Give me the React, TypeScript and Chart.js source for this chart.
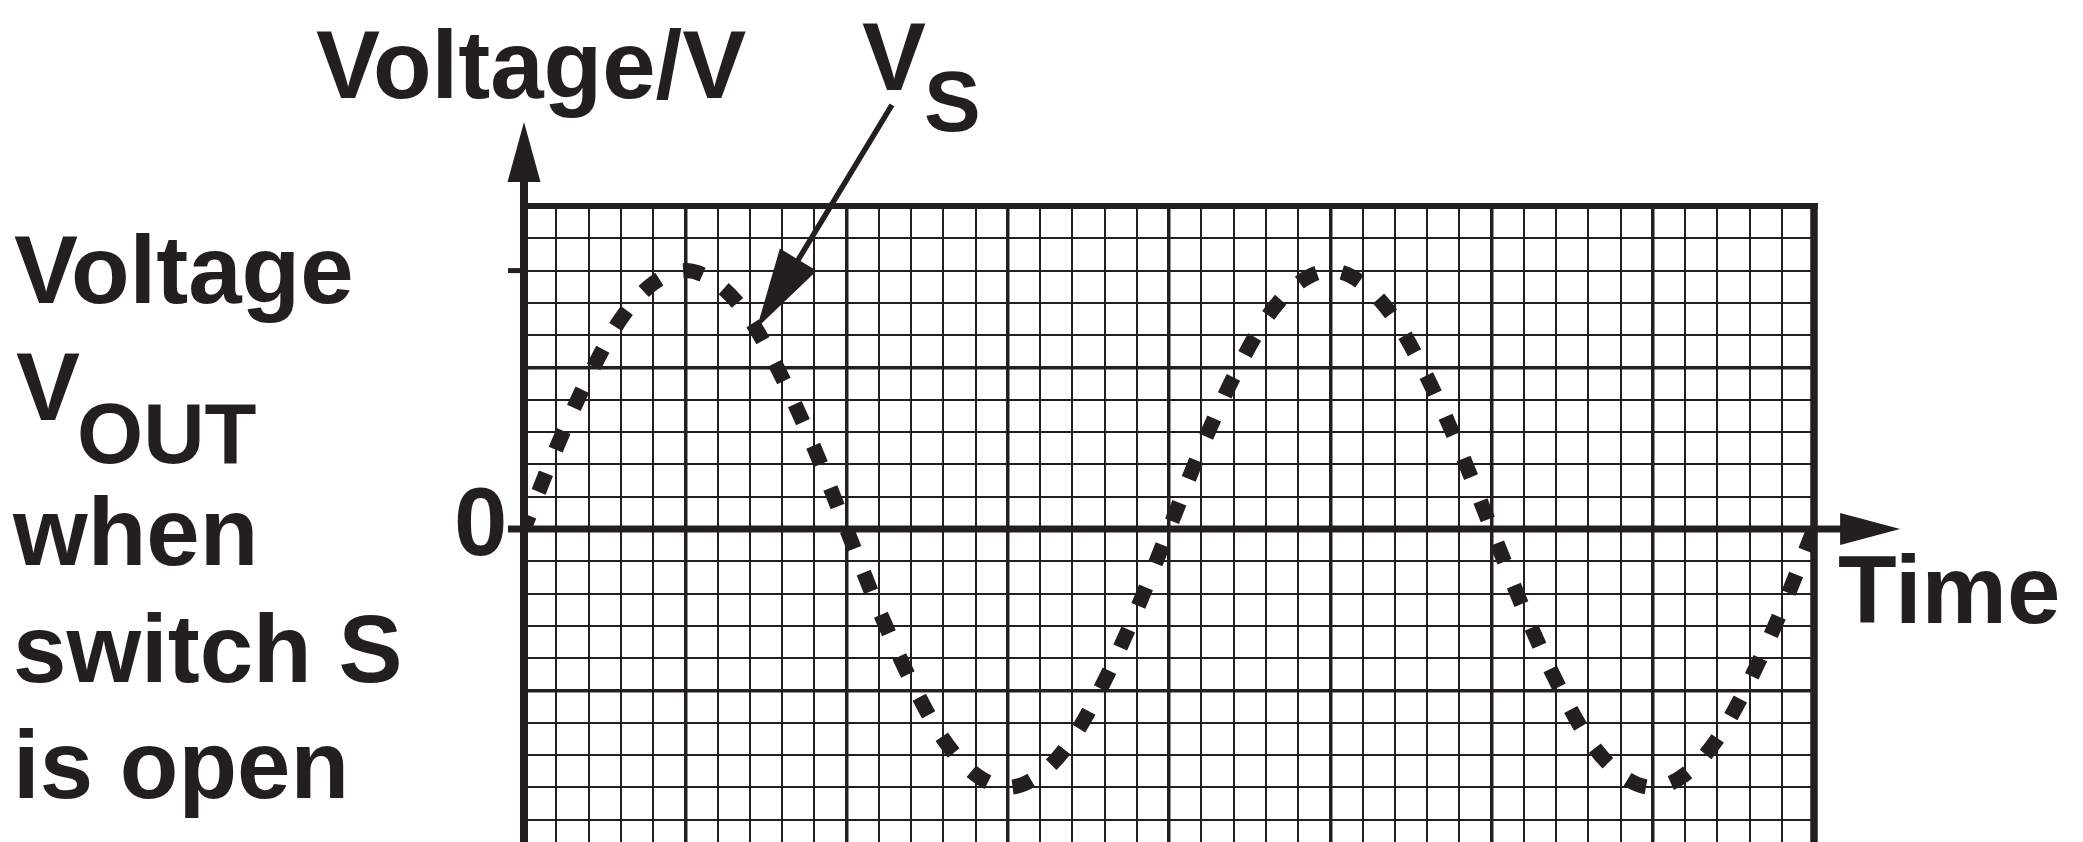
import React, { useEffect, useRef } from "react";
import { Chart, registerables } from "chart.js";

Chart.register(...registerables);

// ---- data (grid cells: 1 cell horizontally = 1 time unit, 1 cell vertically = 1 voltage unit)
const TIME_CELLS = [
  0, 1, 2, 3, 4, 5, 6, 7, 8, 9, 10, 11, 12, 13, 14, 15, 16, 17, 18, 19, 20,
  21, 22, 23, 24, 25, 26, 27, 28, 29, 30, 31, 32, 33, 34, 35, 36, 37, 38, 39, 40,
];
const VS_VALUES = [
  0, 2.5, 4.7, 6.5, 7.6, 8, 7.6, 6.5, 4.7, 2.5, 0,
  -2.5, -4.7, -6.5, -7.6, -8, -7.6, -6.5, -4.7, -2.5, 0,
  2.5, 4.7, 6.5, 7.6, 8, 7.6, 6.5, 4.7, 2.5, 0,
  -2.5, -4.7, -6.5, -7.6, -8, -7.6, -6.5, -4.7, -2.5, 0,
];
const X_GRID = [
  0, 1, 2, 3, 4, 5, 6, 7, 8, 9, 10, 11, 12, 13, 14, 15, 16, 17, 18, 19, 20,
  21, 22, 23, 24, 25, 26, 27, 28, 29, 30, 31, 32, 33, 34, 35, 36, 37, 38, 39, 40,
];
const Y_GRID = [-9, -8, -7, -6, -5, -4, -3, -2, -1, 0, 1, 2, 3, 4, 5, 6, 7, 8, 9, 10];
const Y_MARKED = [0, 8];

// ---- axis ranges and annotation anchors (in data units)
const X_MIN = 0;
const X_MAX = 40;
const Y_MIN = -9.69;
const Y_MAX = 10;
const Y_ARROW_TIP = 12.6;
const X_ARROW_TIP = 42.67;
const POINTER_TAIL = { x: 11.41, y: 13.13 };
const POINTER_TIP = { x: 7.22, y: 6.22 };

const INK = "#231f20";
const FONT = '"Liberation Sans", Arial, Helvetica, sans-serif';

function strokeLine(ctx: CanvasRenderingContext2D, x1: number, y1: number, x2: number, y2: number, w: number) {
  ctx.beginPath();
  ctx.lineWidth = w;
  ctx.moveTo(x1, y1);
  ctx.lineTo(x2, y2);
  ctx.stroke();
}

function fillTri(ctx: CanvasRenderingContext2D, pts: number[][]) {
  ctx.beginPath();
  ctx.moveTo(pts[0][0], pts[0][1]);
  ctx.lineTo(pts[1][0], pts[1][1]);
  ctx.lineTo(pts[2][0], pts[2][1]);
  ctx.closePath();
  ctx.fill();
}

const framePlugin = {
  id: "frame",
  beforeDatasetsDraw(chart: any) {
    const { ctx, chartArea, scales } = chart;
    const x = scales.x;
    const y = scales.y;
    const xl = x.getPixelForValue(X_MIN);
    const xr = x.getPixelForValue(X_MAX);
    const yt = y.getPixelForValue(Y_MAX);
    const y0 = y.getPixelForValue(0);
    ctx.save();
    ctx.strokeStyle = INK;
    ctx.fillStyle = INK;
    ctx.lineCap = "butt";
    // top border
    strokeLine(ctx, xl, yt, xr + 3.75, yt, 6);
    // right border
    strokeLine(ctx, xr, yt - 3, xr, chartArea.bottom, 7.5);
    // zero axis with tick and arrow
    const xTip = x.getPixelForValue(X_ARROW_TIP);
    const head = 60;
    strokeLine(ctx, xl - 16, y0, xTip - head + 2, y0, 7);
    fillTri(ctx, [
      [xTip, y0],
      [xTip - head, y0 - 16],
      [xTip - head, y0 + 16],
    ]);
    // marked ticks on the vertical axis
    Y_MARKED.forEach((v) => {
      if (v === 0) return;
      const py = y.getPixelForValue(v);
      strokeLine(ctx, xl - 16, py, xl, py, 5);
    });
    // vertical axis with arrow
    const yTip = y.getPixelForValue(Y_ARROW_TIP);
    strokeLine(ctx, xl, chartArea.bottom + 2, xl, yTip + head - 2, 8);
    fillTri(ctx, [
      [xl, yTip],
      [xl - 16.5, yTip + head],
      [xl + 16.5, yTip + head],
    ]);
    ctx.restore();
  },
  afterDatasetsDraw(chart: any) {
    const { ctx, scales } = chart;
    const x = scales.x;
    const y = scales.y;
    const tx = x.getPixelForValue(POINTER_TAIL.x);
    const ty = y.getPixelForValue(POINTER_TAIL.y);
    const px = x.getPixelForValue(POINTER_TIP.x);
    const py = y.getPixelForValue(POINTER_TIP.y);
    const dx = px - tx;
    const dy = py - ty;
    const len = Math.hypot(dx, dy);
    const ux = dx / len;
    const uy = dy / len;
    const headLen = 80;
    const half = 21.5;
    const bx = px - ux * headLen;
    const by = py - uy * headLen;
    ctx.save();
    ctx.strokeStyle = INK;
    ctx.fillStyle = INK;
    ctx.lineCap = "butt";
    strokeLine(ctx, tx, ty, bx + ux * 4, by + uy * 4, 5.5);
    fillTri(ctx, [
      [px, py],
      [bx - uy * half, by + ux * half],
      [bx + uy * half, by - ux * half],
    ]);
    ctx.restore();
  },
};

function gridWidth(ctx: any) {
  const v = ctx.tick ? ctx.tick.value : 1;
  return v % 5 === 0 ? 3.5 : 2;
}

function Label(props: { left: number; baseline: number; size: number; children: any }) {
  const { left, baseline, size, children } = props;
  return (
    <div
      style={{
        position: "absolute",
        left,
        top: baseline - size * 0.8465,
        fontFamily: FONT,
        fontWeight: 700,
        fontSize: size,
        lineHeight: `${size}px`,
        color: INK,
        whiteSpace: "nowrap",
      }}
    >
      {children}
    </div>
  );
}

export default function App() {
  const canvasRef = useRef<HTMLCanvasElement | null>(null);

  useEffect(() => {
    const canvas = canvasRef.current;
    if (!canvas) return;
    const chart = new Chart(canvas, {
      type: "line",
      data: {
        datasets: [
          {
            label: "VS",
            data: TIME_CELLS.map((t, i) => ({ x: t, y: VS_VALUES[i] })),
            borderColor: INK,
            borderWidth: 15,
            borderDash: [20, 25.5],
            borderDashOffset: 5.6,
            borderCapStyle: "butt",
            cubicInterpolationMode: "monotone",
            pointRadius: 0,
            fill: false,
          },
        ],
      },
      options: {
        responsive: false,
        maintainAspectRatio: false,
        animation: false,
        devicePixelRatio: 1,
        events: [],
        layout: { padding: { left: 524, right: 269, top: 206, bottom: 0 } },
        plugins: {
          legend: { display: false },
          tooltip: { enabled: false },
          title: { display: false },
        },
        scales: {
          x: {
            type: "linear",
            min: X_MIN,
            max: X_MAX,
            afterBuildTicks: (s: any) => {
              s.ticks = X_GRID.map((v) => ({ value: v }));
            },
            ticks: { display: false },
            border: { display: false },
            grid: {
              drawTicks: false,
              lineWidth: gridWidth,
              color: (c: any) =>
                c.tick && (c.tick.value === X_MIN || c.tick.value === X_MAX) ? "rgba(0,0,0,0)" : INK,
            },
          },
          y: {
            type: "linear",
            min: Y_MIN,
            max: Y_MAX,
            afterBuildTicks: (s: any) => {
              s.ticks = Y_GRID.map((v) => ({ value: v }));
            },
            ticks: { display: false },
            border: { display: false },
            grid: {
              drawTicks: false,
              lineWidth: gridWidth,
              color: (c: any) =>
                c.tick && (c.tick.value === 0 || c.tick.value === Y_MAX) ? "rgba(0,0,0,0)" : INK,
            },
          },
        },
      },
      plugins: [framePlugin],
    } as any);
    return () => chart.destroy();
  }, []);

  return (
    <div
      style={{
        position: "fixed",
        left: 0,
        top: 0,
        width: 2083,
        height: 842,
        background: "#ffffff",
        overflow: "hidden",
      }}
    >
      <canvas
        ref={canvasRef}
        width={2083}
        height={842}
        style={{ position: "absolute", left: 0, top: 0, width: 2083, height: 842, display: "block" }}
      />
      <Label left={316} baseline={98} size={96}>Voltage/V</Label>
      <Label left={862} baseline={90} size={96}>
        V<span style={{ fontSize: 85, position: "relative", top: 41, marginLeft: -2 }}>S</span>
      </Label>
      <Label left={454} baseline={555.5} size={96}>0</Label>
      <Label left={1838} baseline={623} size={96}>Time</Label>
      <Label left={14} baseline={303} size={96}>Voltage</Label>
      <Label left={16} baseline={420} size={96}>
        V<span style={{ fontSize: 85, position: "relative", top: 43, marginLeft: -3 }}>OUT</span>
      </Label>
      <Label left={13} baseline={565} size={96}>when</Label>
      <Label left={13} baseline={682} size={96}>switch S</Label>
      <Label left={13} baseline={798} size={96}>is open</Label>
    </div>
  );
}
